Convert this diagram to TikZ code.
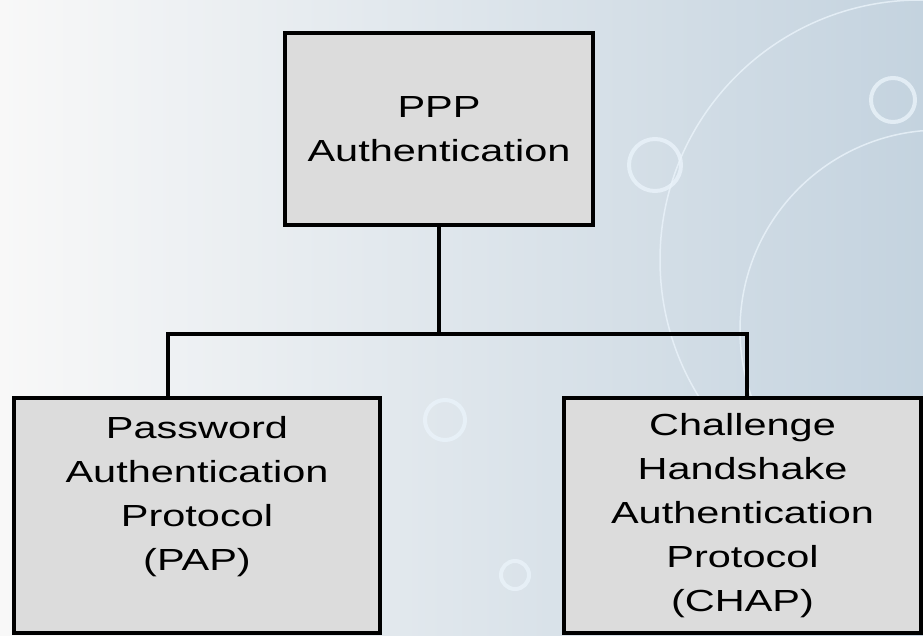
\documentclass[tikz,border=0pt]{standalone}
\usepackage{fontspec}
\newfontfamily\boxfont{Liberation Sans}[FakeStretch=1.36]
\usetikzlibrary{positioning}
\definecolor{boxgray}{HTML}{DCDCDC}
\definecolor{bgleft}{HTML}{F8F8F8}
\definecolor{bgright}{HTML}{C4D3DF}
\definecolor{glow}{HTML}{EAF3FA}

\begin{document}
\begin{tikzpicture}[x=1pt,y=1pt]
                \tikzstyle{every node}+=[inner sep=0pt]
                \tikzstyle{box}=[draw=black, line width=3.5pt, fill=boxgray, align=center, font=\boxfont\fontsize{30.5}{44}\selectfont]
                \tikzstyle{wire}=[draw=black, line width=4pt, line join=miter]
                \tikzstyle{ring}=[draw=glow, line width=4pt, opacity=0.8]
                \useasboundingbox (0,0) rectangle (923,-635);
                % background
                \shade [left color=bgleft, right color=bgright] (0,0) rectangle (923,-635);
                \draw [ring] (655,-165) circle (26);
                \draw [ring] (893,-100) circle (22);
                \draw [ring] (445,-420) circle (20);
                \draw [ring] (515,-575) circle (14);
                \draw [ring, line width=1.5pt] (920,-260) circle (260);
                \draw [ring, line width=1.5pt] (940,-330) circle (200);
                % boxes
                \node [box, minimum width=308, minimum height=192] (ppp) at (439,-129) {PPP\\Authentication};
                \node [box, minimum width=366, minimum height=235] (pap) at (197,-515.5) {Password\\Authentication\\Protocol\\(PAP)\\\mbox{}};
                \node [box, minimum width=357, minimum height=235] (chap) at (742.5,-515.5) {Challenge\\Handshake\\Authentication\\Protocol\\(CHAP)};
                % connectors
                \coordinate (bus) at (439,-334);
                \coordinate (papin) at (168,-334);
                \coordinate (chapin) at (747,-334);
                \draw [wire] (ppp.south) -- (ppp.south |- bus);
                \draw [wire] (pap.north -| papin) -- (papin) -- (chapin) -- (chap.north -| chapin);
\end{tikzpicture}
\end{document}
